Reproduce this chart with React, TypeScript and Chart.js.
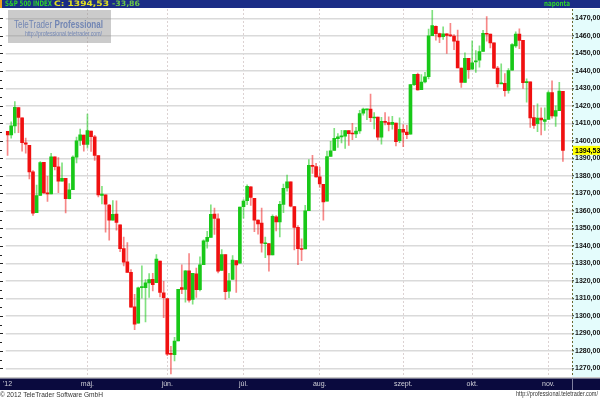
import React, { useEffect, useRef } from "react";
import { Chart, registerables } from "chart.js";

Chart.register(...registerables);

// Trading days (MM-DD, 2012)
const dates = [
  "03-29","03-30",
  "04-02","04-03","04-04","04-05","04-09","04-10","04-11","04-12","04-13","04-16","04-17","04-18","04-19","04-20","04-23","04-24","04-25","04-26","04-27","04-30",
  "05-01","05-02","05-03","05-04","05-07","05-08","05-09","05-10","05-11","05-14","05-15","05-16","05-17","05-18","05-21","05-22","05-23","05-24","05-25","05-29","05-30","05-31",
  "06-01","06-04","06-05","06-06","06-07","06-08","06-11","06-12","06-13","06-14","06-15","06-18","06-19","06-20","06-21","06-22","06-25","06-26","06-27","06-28","06-29",
  "07-02","07-03","07-05","07-06","07-09","07-10","07-11","07-12","07-13","07-16","07-17","07-18","07-19","07-20","07-23","07-24","07-25","07-26","07-27","07-30","07-31",
  "08-01","08-02","08-03","08-06","08-07","08-08","08-09","08-10","08-13","08-14","08-15","08-16","08-17","08-20","08-21","08-22","08-23","08-24","08-27","08-28","08-29","08-30","08-31",
  "09-04","09-05","09-06","09-07","09-10","09-11","09-12","09-13","09-14","09-17","09-18","09-19","09-20","09-21","09-24","09-25","09-26","09-27","09-28",
  "10-01","10-02","10-03","10-04","10-05","10-08","10-09","10-10","10-11","10-12","10-15","10-16","10-17","10-18","10-19","10-22","10-23","10-24","10-25","10-26","10-31",
  "11-01","11-02","11-05","11-06","11-07",
];

const openValues = [
  1405.39,1403.31,
  1408.47,1418.98,1413.09,1398.79,1397.45,1382.18,1358.98,1368.77,1387.61,1370.27,1369.57,1390.78,1385.08,1376.96,1378.53,1366.97,1372.11,1390.64,1400.19,1403.26,
  1397.86,1405.50,1402.32,1391.51,1368.79,1369.16,1363.20,1354.58,1358.11,1351.93,1338.36,1330.78,1324.82,1305.05,1295.73,1316.09,1316.02,1318.72,1320.81,1318.90,1331.25,1313.09,
  1309.87,1278.29,1277.82,1285.61,1316.15,1314.99,1325.72,1309.40,1324.02,1314.88,1329.19,1342.42,1344.83,1358.04,1355.43,1325.92,1334.90,1314.09,1320.71,1331.52,1330.12,
  1362.33,1365.75,1373.72,1367.09,1354.66,1352.96,1341.40,1341.29,1334.81,1356.50,1353.68,1363.58,1373.01,1376.51,1362.34,1350.52,1338.35,1338.17,1360.05,1385.94,1385.27,
  1379.32,1375.13,1365.45,1391.04,1394.46,1401.23,1402.26,1402.58,1405.87,1404.36,1403.89,1405.57,1415.84,1417.85,1418.13,1413.09,1413.49,1401.99,1411.13,1410.44,1409.32,1410.08,1400.07,
  1406.54,1404.94,1403.74,1432.12,1437.92,1429.13,1433.56,1436.56,1460.07,1465.42,1461.19,1459.50,1461.05,1460.34,1459.76,1456.94,1441.60,1433.36,1447.13,
  1440.90,1444.99,1446.05,1451.08,1461.40,1460.93,1455.90,1441.48,1432.82,1432.84,1428.75,1440.31,1454.22,1460.94,1457.34,1433.21,1433.74,1413.20,1409.74,1412.97,1410.99,
  1412.20,1427.59,1414.02,1417.26,1428.27,
];

const highValues = [
  1405.39,1410.89,
  1422.38,1419.00,1413.09,1401.60,1397.45,1383.01,1374.71,1388.13,1387.61,1379.66,1392.76,1390.78,1390.46,1387.40,1378.53,1375.57,1391.37,1402.09,1406.64,1403.26,
  1415.32,1405.50,1403.07,1391.51,1373.91,1369.16,1363.73,1365.88,1365.66,1351.93,1344.94,1341.78,1326.36,1312.24,1316.39,1328.49,1320.71,1324.14,1324.20,1334.93,1331.25,1319.74,
  1309.87,1282.55,1287.62,1315.13,1329.05,1325.81,1335.52,1324.31,1327.28,1333.68,1343.32,1348.22,1363.46,1361.57,1358.27,1337.82,1334.90,1324.24,1334.40,1331.52,1362.17,
  1366.35,1374.81,1373.85,1367.09,1354.87,1361.54,1345.00,1341.29,1357.70,1357.26,1365.36,1375.26,1380.39,1376.51,1362.34,1351.53,1343.98,1363.13,1389.19,1391.74,1387.16,
  1385.03,1375.13,1394.16,1399.63,1407.14,1404.14,1405.95,1405.98,1405.87,1410.03,1407.73,1417.44,1418.71,1418.13,1426.68,1416.12,1413.49,1413.46,1416.17,1413.63,1413.95,1410.08,1413.09,
  1409.31,1408.81,1432.12,1437.92,1438.74,1437.76,1439.15,1463.76,1474.51,1465.63,1461.47,1465.15,1461.23,1467.07,1460.72,1463.24,1441.60,1450.20,1447.13,
  1457.14,1451.52,1454.30,1463.14,1470.96,1460.93,1455.90,1442.52,1443.90,1438.43,1441.31,1455.51,1462.20,1464.02,1457.34,1435.46,1433.74,1420.04,1421.12,1418.82,1418.76,
  1428.35,1434.27,1419.90,1433.38,1428.27,
];

const lowValues = [
  1391.56,1401.42,
  1404.46,1404.62,1394.09,1392.92,1378.24,1357.38,1358.98,1368.77,1369.85,1365.38,1369.57,1383.29,1370.30,1376.96,1358.79,1366.82,1372.11,1387.28,1397.31,1394.00,
  1395.73,1393.92,1388.71,1367.96,1363.94,1347.75,1343.13,1354.58,1348.89,1336.61,1328.41,1324.79,1304.86,1291.98,1295.73,1310.04,1296.53,1310.50,1314.23,1318.90,1310.76,1298.90,
  1277.25,1266.74,1274.16,1285.61,1312.68,1307.77,1307.73,1306.62,1310.51,1314.14,1329.19,1338.63,1344.83,1346.45,1324.41,1325.92,1309.27,1310.30,1320.71,1313.29,1330.12,
  1355.70,1363.53,1363.02,1348.03,1346.65,1336.27,1333.25,1325.41,1334.81,1348.51,1345.07,1358.96,1371.21,1362.19,1337.56,1329.24,1331.50,1338.17,1360.05,1381.37,1379.17,
  1373.35,1354.65,1365.45,1391.04,1394.46,1396.13,1398.80,1395.62,1397.32,1400.60,1401.83,1404.15,1414.67,1412.12,1410.86,1406.78,1400.50,1398.04,1409.11,1405.59,1406.57,1397.01,1398.96,
  1396.56,1401.25,1403.74,1431.45,1428.98,1429.13,1432.99,1435.34,1460.07,1457.55,1456.13,1457.88,1449.98,1459.51,1452.06,1441.59,1430.53,1433.36,1435.60,
  1440.90,1439.01,1441.99,1451.08,1456.89,1453.10,1441.18,1430.64,1432.82,1425.53,1427.24,1440.31,1453.35,1452.63,1429.85,1422.06,1407.56,1407.10,1405.14,1403.28,1405.95,
  1412.20,1412.91,1408.13,1417.26,1388.14,
];

const closeValues = [
  1403.28,1408.47,
  1419.04,1413.38,1398.96,1398.08,1382.20,1358.59,1368.71,1387.57,1370.26,1369.57,1390.78,1385.14,1376.92,1378.53,1366.94,1371.97,1390.69,1399.98,1403.36,1397.91,
  1405.82,1402.31,1391.57,1369.10,1369.58,1363.72,1354.58,1357.99,1353.39,1338.35,1330.66,1324.80,1304.86,1295.22,1315.99,1316.63,1318.86,1320.68,1317.82,1332.42,1313.32,1310.33,
  1278.04,1278.18,1285.50,1315.13,1314.99,1325.66,1308.93,1324.18,1314.88,1329.10,1342.84,1344.78,1357.98,1355.69,1325.51,1335.02,1313.72,1319.99,1331.85,1329.04,1362.16,
  1365.51,1374.02,1367.58,1354.68,1352.46,1341.47,1341.45,1334.76,1356.78,1353.64,1363.67,1372.78,1376.51,1362.66,1350.52,1338.31,1337.89,1360.02,1385.97,1385.30,1379.32,
  1375.32,1365.00,1390.99,1394.23,1401.35,1402.22,1402.80,1405.87,1404.11,1403.93,1405.53,1415.51,1418.16,1418.13,1413.17,1413.49,1402.08,1411.13,1410.44,1409.30,1410.49,1399.48,1406.58,
  1404.94,1403.44,1432.12,1437.92,1429.08,1433.56,1436.56,1459.99,1465.77,1461.19,1459.32,1461.05,1460.26,1460.15,1456.89,1441.59,1433.32,1447.15,1440.67,
  1444.49,1445.75,1450.99,1461.40,1460.93,1455.88,1441.48,1432.56,1432.84,1428.59,1440.13,1454.92,1460.91,1457.34,1433.19,1433.82,1413.11,1408.75,1412.97,1411.94,1412.16,
  1427.59,1414.20,1417.26,1428.39,1394.53,
];

const monthNames = ["jan.","febr.","márc.","ápr.","máj.","jún.","júl.","aug.","szept.","okt.","nov.","dec."];
const yearLabel = "'12";
const yMin = 1265;
const yMax = 1475.3;
const yStep = 10;
const padCategories = 2;

const lastClose = 1394.53;
const lastChange = "-33,86";
const titleText = "S&P 500 INDEX";
const periodText = "naponta";

const UP = "#18c818";
const DOWN = "#f01010";
const UP_WICK = "rgba(24,200,24,0.55)";
const DOWN_WICK = "rgba(240,16,16,0.5)";
const FONT = "'Liberation Sans', Arial, sans-serif";
const HFONT = "'DejaVu Sans', Verdana, sans-serif";

const fmt = (v: number) => v.toFixed(2).replace(".", ",");

function monthLabel(i: number): string {
  if (i === 0) return yearLabel;
  if (i < 5 || i >= dates.length) return "";
  const m = dates[i].slice(0, 2);
  const pm = dates[i - 1].slice(0, 2);
  return m !== pm ? monthNames[parseInt(m, 10) - 1] : "";
}

function fitText(ctx: CanvasRenderingContext2D, text: string, x: number, y: number, w: number) {
  const m = ctx.measureText(text).width;
  ctx.save();
  ctx.translate(x, y);
  ctx.scale(w / m, 1);
  ctx.textAlign = "left";
  ctx.fillText(text, 0, 0);
  ctx.restore();
}

export default function App() {
  const ref = useRef<HTMLCanvasElement | null>(null);

  useEffect(() => {
    const canvas = ref.current;
    if (!canvas) return;
    const n = dates.length;
    const labels = [...dates, ...Array.from({ length: padCategories }, (_, k) => "pad" + k)];
    const up = openValues.map((o, i) => closeValues[i] >= o);
    const bodies = openValues.map((o, i) => {
      const c = closeValues[i];
      if (Math.abs(c - o) < 0.35) {
        const m = (o + c) / 2;
        return [m - 0.3, m + 0.3];
      }
      return [o, c];
    });
    const wicks = lowValues.map((l, i) => [l, highValues[i]]);

    const bgPlugin = {
      id: "ttBackground",
      beforeDraw(chart: any) {
        const { ctx, chartArea: a, scales } = chart;
        ctx.save();
        ctx.fillStyle = "#ffffff";
        ctx.fillRect(0, 0, 600, 400);
        ctx.fillStyle = "#e4fcfc";
        ctx.fillRect(a.right, a.top, 600 - a.right, a.bottom - a.top);
        ctx.fillStyle = "#1b2d86";
        ctx.fillRect(0, 0, 600, 8);
        ctx.fillStyle = "#f0a020";
        ctx.fillRect(0, 0, 2, 8);
        ctx.fillStyle = "#c8c8c8";
        ctx.fillRect(0, a.bottom, 600, 1.5);
        ctx.fillStyle = "#0a0a3e";
        ctx.fillRect(0, a.bottom + 1.5, 600, 11.5);
        ctx.fillStyle = "#8080a0";
        ctx.fillRect(a.right, a.bottom + 1.5, 1, 11.5);
        const y = scales.y;
        ctx.fillStyle = "#222";
        for (let v = 1270; v <= 1470; v += 5) {
          const py = Math.round(y.getPixelForValue(v));
          ctx.fillRect(0, py, v % 10 === 0 ? 3 : 2, 1);
        }
        ctx.restore();
      },
      afterDraw(chart: any) {
        const { ctx, chartArea: a, scales } = chart;
        ctx.save();
        ctx.strokeStyle = "#6a6a30";
        ctx.setLineDash([2, 2]);
        ctx.lineWidth = 1;
        ctx.beginPath();
        ctx.moveTo(a.right + 0.5, a.top);
        ctx.lineTo(a.right + 0.5, a.bottom);
        ctx.stroke();
        ctx.setLineDash([]);

        // header text
        ctx.font = `bold 7.5px ${HFONT}`;
        ctx.textBaseline = "middle";
        ctx.fillStyle = "#2ed02e";
        fitText(ctx, titleText, 5, 4.5, 47);
        ctx.fillStyle = "#e2e220";
        fitText(ctx, "C: " + fmt(lastClose), 54, 4.5, 55);
        ctx.fillStyle = "#6cc848";
        fitText(ctx, lastChange, 112, 4.5, 28);
        ctx.fillStyle = "#2ed02e";
        fitText(ctx, periodText, 544, 4.5, 26);

        // watermark
        ctx.fillStyle = "rgba(140,140,140,0.45)";
        ctx.fillRect(8, 10, 103, 33);
        ctx.fillStyle = "#7286b4";
        ctx.textBaseline = "middle";
        const t1 = "TeleTrader ";
        const t2 = "Professional";
        ctx.font = `11px ${FONT}`;
        const w1 = ctx.measureText(t1).width;
        ctx.font = `bold 11px ${FONT}`;
        const w2 = ctx.measureText(t2).width;
        const s = 89 / (w1 + w2);
        ctx.save();
        ctx.translate(14, 24.5);
        ctx.scale(s, 1);
        ctx.textAlign = "left";
        ctx.font = `11px ${FONT}`;
        ctx.fillText(t1, 0, 0);
        ctx.font = `bold 11px ${FONT}`;
        ctx.fillText(t2, w1, 0);
        ctx.restore();
        ctx.font = `6.5px ${FONT}`;
        fitText(ctx, "http://professional.teletrader.com/", 25, 34.5, 77);

        // current value label
        const py = scales.y.getPixelForValue(lastClose);
        ctx.fillStyle = "#ffff00";
        ctx.fillRect(a.right + 1, py - 4.5, 600 - a.right - 1, 9);
        ctx.fillStyle = "#000";
        ctx.font = `bold 7px ${FONT}`;
        ctx.textAlign = "left";
        ctx.textBaseline = "middle";
        ctx.fillText(fmt(lastClose), a.right + 3, py + 0.5);

        // footer
        ctx.fillStyle = "#333";
        ctx.textBaseline = "middle";
        ctx.font = `7.5px ${FONT}`;
        fitText(ctx, "\u00a9 2012 TeleTrader Software GmbH", 0, 394.5, 103);
        ctx.font = `7px ${FONT}`;
        fitText(ctx, "http://professional.teletrader.com/", 516, 394.5, 82);
        ctx.restore();
      },
    };

    const chart = new Chart(canvas, {
      type: "bar",
      data: {
        labels,
        datasets: [
          {
            data: bodies as any,
            backgroundColor: up.map((u) => (u ? UP : DOWN)),
            barThickness: 3,
            grouped: false,
            order: 0,
          } as any,
          {
            data: wicks as any,
            backgroundColor: up.map((u) => (u ? UP_WICK : DOWN_WICK)),
            barThickness: 1,
            grouped: false,
            order: 1,
          } as any,
        ],
      },
      options: {
        responsive: false,
        animation: false,
        events: [],
        layout: { padding: { top: 9, left: 3.9, right: 0, bottom: 10 } },
        plugins: { legend: { display: false }, tooltip: { enabled: false } },
        scales: {
          x: {
            type: "category",
            offset: true,
            afterFit: (s: any) => {
              s.height = 13;
            },
            grid: {
              offset: false,
              drawTicks: false,
              lineWidth: 1,
              color: (c: any) => {
                const i = c.index;
                if (i === undefined || i <= 0 || i >= n) return "rgba(0,0,0,0)";
                return monthLabel(i) ? "#dcd2d2" : "rgba(0,0,0,0)";
              },
            },
            border: { display: false, dash: [2, 2] },
            ticks: {
              autoSkip: false,
              maxRotation: 0,
              minRotation: 0,
              padding: 3,
              color: "#d0d0d8",
              font: { size: 7, family: FONT },
              callback: (_v: any, i: number) => monthLabel(i),
            },
          },
          y: {
            type: "linear",
            position: "right",
            min: yMin,
            max: yMax,
            afterFit: (s: any) => {
              s.width = 28;
            },
            grid: {
              color: "#dadada",
              lineWidth: 1.5,
              drawTicks: true,
              tickLength: 2,
              tickColor: "#222",
              tickWidth: 1,
            },
            border: { display: false },
            ticks: {
              stepSize: yStep,
              includeBounds: false,
              padding: 1,
              crossAlign: "near",
              color: "#111",
              font: { size: 7, weight: "bold", family: FONT },
              callback: (v: any) => fmt(Number(v)),
            },
          },
        },
      },
      plugins: [bgPlugin],
    });
    return () => chart.destroy();
  }, []);

  return (
    <div style={{ position: "fixed", left: 0, top: 0, width: 600, height: 400, background: "#fff" }}>
      <canvas ref={ref} width={600} height={400} style={{ display: "block" }} />
    </div>
  );
}
